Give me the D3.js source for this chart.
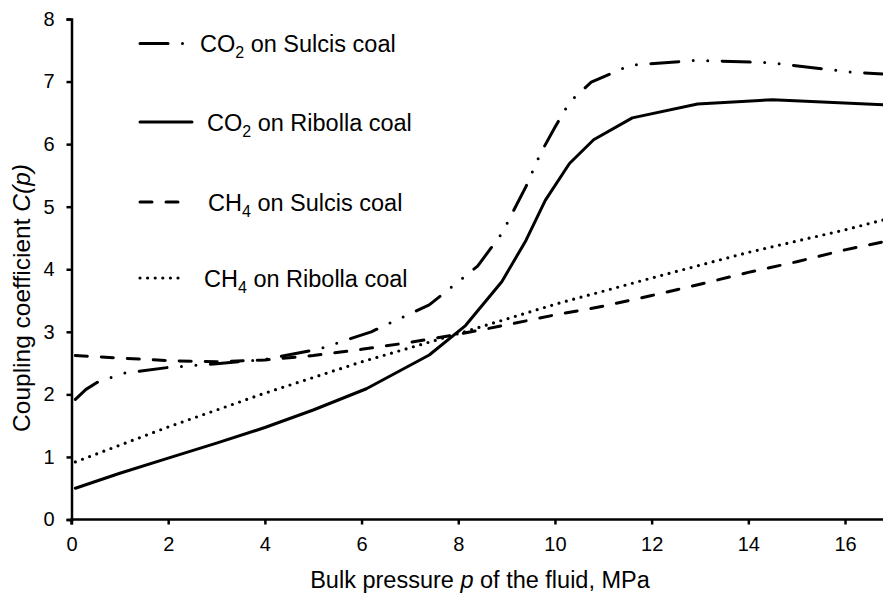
<!DOCTYPE html>
<html>
<head>
<meta charset="utf-8">
<script src="https://cdn.jsdelivr.net/npm/d3@7"></script>
<style>
  html, body { margin: 0; padding: 0; background: #fff; }
  svg { display: block; font-family: "Liberation Sans", Arial, sans-serif; }
</style>
</head>
<body>
<svg id="chart" width="883" height="597"></svg>
<script>
// Coupling coefficient C(p) versus bulk fluid pressure for two gases on two coals.
const co2SulcisP = [0.08, 0.3, 0.55, 1.1, 2.0, 3.0, 4.0, 5.1, 6.2, 7.4, 8.4, 8.9, 9.4, 9.7, 10.0, 10.3, 10.75, 11.55, 12.95, 14.45, 16.15, 16.8];
const co2SulcisC = [1.92, 2.08, 2.2, 2.34, 2.43, 2.49, 2.56, 2.72, 3.0, 3.43, 4.05, 4.57, 5.32, 5.85, 6.27, 6.67, 6.99, 7.26, 7.34, 7.30, 7.15, 7.12];

const co2RibollaP = [0.08, 1, 2, 3, 4, 5, 6.1, 7.4, 8.15, 8.9, 9.4, 9.8, 10.3, 10.8, 11.6, 12.95, 14.5, 16.8];
const co2RibollaC = [0.5, 0.74, 0.98, 1.22, 1.47, 1.75, 2.09, 2.63, 3.1, 3.8, 4.46, 5.1, 5.69, 6.07, 6.42, 6.64, 6.71, 6.63];

const ch4SulcisP = [0.08, 1, 2, 3, 4, 5, 6, 7, 8, 9, 10, 11, 12, 13, 14, 15, 16, 16.8];
const ch4SulcisC = [2.62, 2.58, 2.54, 2.52, 2.55, 2.62, 2.72, 2.83, 2.96, 3.11, 3.27, 3.41, 3.58, 3.76, 3.95, 4.12, 4.31, 4.44];

const ch4RibollaP = [0.08, 2, 4, 6, 8, 10, 12, 14, 16, 16.8];
const ch4RibollaC = [0.92, 1.48, 2.02, 2.52, 2.97, 3.44, 3.86, 4.27, 4.63, 4.79];

const xTicks = [0, 2, 4, 6, 8, 10, 12, 14, 16];
const yTicks = [0, 1, 2, 3, 4, 5, 6, 7, 8];

const seriesNames = [
  { gas: "CO", sub: "2", coal: " on Sulcis coal" },
  { gas: "CO", sub: "2", coal: " on Ribolla coal" },
  { gas: "CH", sub: "4", coal: " on Sulcis coal" },
  { gas: "CH", sub: "4", coal: " on Ribolla coal" }
];

const svg = d3.select("#chart");

const x = d3.scaleLinear().domain([0, 16.8]).range([71.5, 883.7]);
const y = d3.scaleLinear().domain([0, 8]).range([519.5, 19]);

// line styles: long dash with dots, solid, dashed, dotted
const styles = [
  { dash: "28 14.5 0 14.5 0 14.5" },
  { dash: null },
  { dash: "12 14" },
  { dash: "0 7.6" }
];

const series = [
  { p: co2SulcisP, c: co2SulcisC },
  { p: co2RibollaP, c: co2RibollaC },
  { p: ch4SulcisP, c: ch4SulcisC },
  { p: ch4RibollaP, c: ch4RibollaC }
];

const line = d3.line()
  .x(d => x(d[0]))
  .y(d => y(d[1]))
  .curve(d3.curveLinear);

const plot = svg.append("g");
series.forEach((s, i) => {
  const pts = s.p.map((p, k) => [p, s.c[k]]);
  plot.append("path")
    .datum(pts)
    .attr("fill", "none")
    .attr("stroke", "#000")
    .attr("stroke-width", i === 3 ? 3.2 : 3)
    .attr("stroke-linecap", "round")
    .attr("stroke-linejoin", "round")
    .attr("stroke-dasharray", styles[i].dash)
    .attr("d", line);
});

// axes
const xAxis = svg.append("g")
  .attr("transform", `translate(0,${y(0)})`)
  .call(d3.axisBottom(x).tickValues(xTicks).tickSize(5).tickPadding(12).tickFormat(d3.format("d")));
const yAxis = svg.append("g")
  .attr("transform", `translate(${x(0)},0)`)
  .call(d3.axisLeft(y).tickValues(yTicks).tickSize(5).tickPadding(12).tickFormat(d3.format("d")));

[xAxis, yAxis].forEach(g => {
  g.select(".domain").attr("stroke", "#000").attr("stroke-width", 2.5);
  g.selectAll(".tick line").attr("stroke", "#000").attr("stroke-width", 2.5);
  g.selectAll(".tick text")
    .attr("fill", "#000")
    .style("font-family", "'Liberation Sans', Arial, sans-serif")
    .style("font-size", "20px");
});
// the x axis line runs on to the right edge
xAxis.select(".domain").attr("d", `M${x(0)},5V0H${883}`);

// axis titles
const xt = svg.append("text")
  .attr("x", 480)
  .attr("y", 588)
  .attr("text-anchor", "middle")
  .style("font-size", "23.5px");
xt.append("tspan").text("Bulk pressure ");
xt.append("tspan").style("font-style", "italic").text("p");
xt.append("tspan").text(" of the fluid, MPa");

const yt = svg.append("text")
  .attr("transform", `translate(30,298) rotate(-90)`)
  .attr("text-anchor", "middle")
  .style("font-size", "24.5px");
yt.append("tspan").text("Coupling coefficient ");
yt.append("tspan").style("font-style", "italic").text("C(p)");

// legend
const legendRows = [
  { y: 43.5, x1: 140, x2: 184, tx: 200 },
  { y: 122, x1: 140, x2: 192, tx: 207 },
  { y: 202, x1: 140, x2: 182, tx: 208 },
  { y: 278, x1: 140, x2: 183, tx: 204 }
];
const legend = svg.append("g");
seriesNames.forEach((n, i) => {
  const r = legendRows[i];
  legend.append("line")
    .attr("x1", r.x1).attr("x2", r.x2)
    .attr("y1", r.y).attr("y2", r.y)
    .attr("stroke", "#000")
    .attr("stroke-width", i === 3 ? 3.2 : 3)
    .attr("stroke-linecap", "round")
    .attr("stroke-dasharray", styles[i].dash);
  const t = legend.append("text")
    .attr("x", r.tx)
    .attr("y", r.y + 8.5)
    .style("font-size", "23.5px");
  t.append("tspan").text(n.gas);
  t.append("tspan").attr("dy", 6).style("font-size", "16px").text(n.sub);
  t.append("tspan").attr("dy", -6).text(n.coal);
});
</script>
</body>
</html>
